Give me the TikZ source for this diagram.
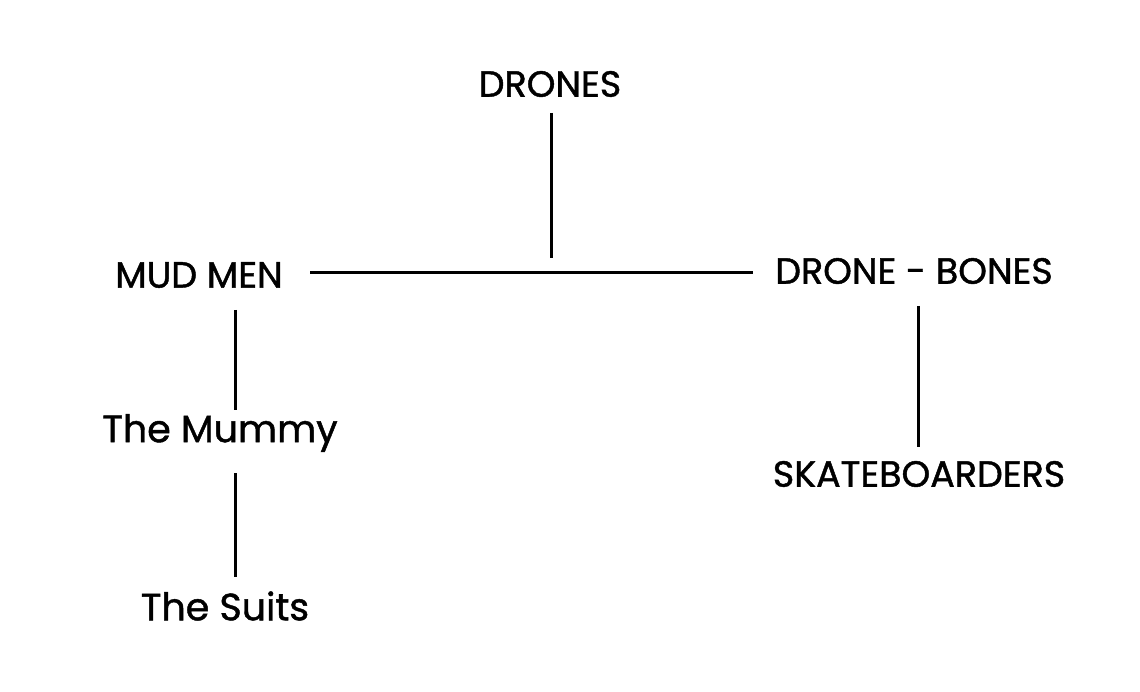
\documentclass[tikz,border=0pt]{standalone}
\usepackage{fontspec}
\setmainfont{Poppins}[FakeBold=1.2]
\begin{document}
\begin{tikzpicture}[x=1pt,y=-1pt,
  lbl/.style={inner sep=0pt, font=\fontsize{36.5}{40}\selectfont},
  big/.style={inner sep=0pt, font=\fontsize{38}{44}\selectfont},
  conn/.style={line width=3pt}]
\useasboundingbox (0,0) rectangle (1140,692);
\node[lbl] (drones) at (550,84) {DRONES};
\node[lbl] (mud) at (199,275) {MUD MEN};
\node[lbl] (bones) at (914,271) {DRONE - BONES};
\node[big] (mummy) at (220,433) {The Mummy};
\node[big] (suits) at (225,606) {The Suits};
\node[lbl] (skate) at (919,474) {SKATEBOARDERS};
\coordinate (dtop) at (551,113);
\coordinate (jn) at (551,258);
\coordinate (hl) at (310,273);
\coordinate (hr) at (753,273);
\draw[conn] (dtop) -- (jn);
\draw[conn] (hl) -- (hr);
\draw[conn] (235,310) coordinate (m1) -- (235,410) coordinate (m2);
\draw[conn] (235,473) coordinate (s1) -- (235,577) coordinate (s2);
\draw[conn] (918,306) coordinate (b1) -- (918,447) coordinate (b2);
\end{tikzpicture}
\end{document}
